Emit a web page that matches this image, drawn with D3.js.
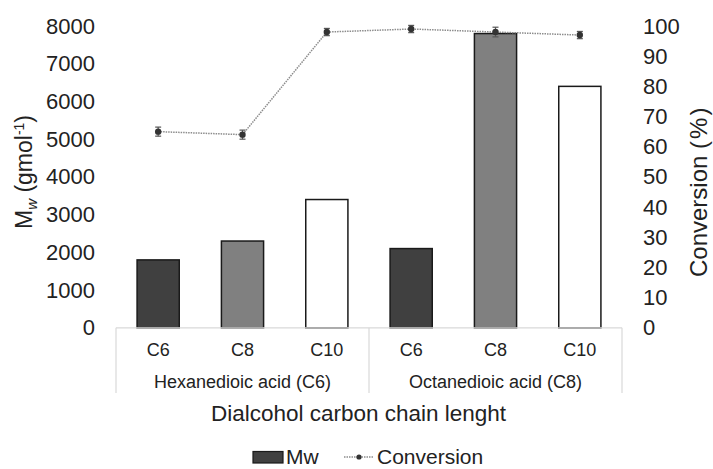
<!DOCTYPE html>
<html>
<head>
<meta charset="utf-8">
<script src="https://cdn.jsdelivr.net/npm/d3@7"></script>
<style>
  html, body { margin: 0; padding: 0; background: #fff; }
  svg { display: block; font-family: Arial, "Liberation Sans", sans-serif; }
</style>
</head>
<body>
<svg id="chart" width="713" height="469"></svg>
<script>
// Molecular weight and conversion by diacid / dialcohol pairing
const groups = ["Hexanedioic acid (C6)", "Octanedioic acid (C8)"];
const alcohols = ["C6", "C8", "C10"];
const mwValues = [1800, 2300, 3400, 2100, 7800, 6400];
const conversionValues = [65, 64, 98, 99, 98, 97];
const conversionErrors = [1.5, 1.5, 1.2, 1.2, 1.6, 1.2];
const mwTicks = [0, 1000, 2000, 3000, 4000, 5000, 6000, 7000, 8000];
const convTicks = [0, 10, 20, 30, 40, 50, 60, 70, 80, 90, 100];
const barFills = { C6: "#404040", C8: "#808080", C10: "#ffffff" };

const FONT = "Arial, 'Liberation Sans', sans-serif";
const svg = d3.select("#chart");
const plot = { left: 116, right: 622, top: 26, bottom: 327.8 };

const items = [];
groups.forEach((g, gi) => alcohols.forEach((a, ai) => {
  const i = gi * alcohols.length + ai;
  items.push({ key: g + "|" + a, group: g, alcohol: a, mw: mwValues[i], conv: conversionValues[i], err: conversionErrors[i] });
}));

const x = d3.scaleBand().domain(items.map(d => d.key)).range([plot.left, plot.right]);
const xGroup = d3.scaleBand().domain(groups).range([plot.left, plot.right]);
const yL = d3.scaleLinear().domain([0, 8000]).range([plot.bottom, plot.top]);
const yR = d3.scaleLinear().domain([0, 100]).range([plot.bottom, plot.top]);

const barW = x.bandwidth() * 0.5;

// Bars
svg.append("g").selectAll("rect").data(items).join("rect")
  .attr("x", d => x(d.key) + (x.bandwidth() - barW) / 2)
  .attr("y", d => yL(d.mw))
  .attr("width", barW)
  .attr("height", d => yL(0) - yL(d.mw))
  .attr("fill", d => barFills[d.alcohol])
  .attr("stroke", "#1a1a1a")
  .attr("stroke-width", 1.5);

// Category box below the plot
const boxBottom = 393;
const box = svg.append("g").attr("stroke", "#d9d9d9").attr("stroke-width", 1.2).attr("fill", "none");
box.append("line").attr("x1", plot.left).attr("x2", plot.right).attr("y1", plot.bottom).attr("y2", plot.bottom);
[plot.left, xGroup(groups[1]), plot.right].forEach(px => {
  box.append("line").attr("x1", px).attr("x2", px).attr("y1", plot.bottom).attr("y2", boxBottom);
});

// Category labels
svg.append("g").selectAll("text").data(items).join("text")
  .attr("x", d => x(d.key) + x.bandwidth() / 2)
  .attr("y", 356)
  .attr("text-anchor", "middle")
  .attr("font-size", 18)
  .attr("fill", "#222")
  .text(d => d.alcohol);

svg.append("g").selectAll("text").data(groups).join("text")
  .attr("x", d => xGroup(d) + xGroup.bandwidth() / 2)
  .attr("y", 388)
  .attr("text-anchor", "middle")
  .attr("font-size", 18)
  .attr("fill", "#222")
  .text(d => d);

// Left axis
const leftAxis = d3.axisLeft(yL).tickValues(mwTicks).tickFormat(d3.format("d")).tickSize(0).tickPadding(0);
const gl = svg.append("g").attr("transform", `translate(95,0)`).call(leftAxis);
gl.select(".domain").remove();
gl.attr("font-size", 22).attr("font-family", FONT);
gl.selectAll("text").attr("fill", "#222");

// Right axis
const rightAxis = d3.axisRight(yR).tickValues(convTicks).tickFormat(d3.format("d")).tickSize(0).tickPadding(0);
const gr = svg.append("g").attr("transform", `translate(643,0)`).call(rightAxis);
gr.select(".domain").remove();
gr.attr("font-size", 22).attr("font-family", FONT);
gr.selectAll("text").attr("fill", "#222");

// Axis titles
const lt = svg.append("text")
  .attr("transform", "translate(32,172) rotate(-90)")
  .attr("text-anchor", "middle")
  .attr("font-size", 23)
  .attr("fill", "#222");
lt.append("tspan").text("M");
lt.append("tspan").attr("font-size", 15).attr("font-style", "italic").attr("dy", 5).text("w");
lt.append("tspan").attr("dy", -5).text(" (gmol");
lt.append("tspan").attr("font-size", 14).attr("dy", -8).text("-1");
lt.append("tspan").attr("dy", 8).text(")");

const rt = svg.append("text")
  .attr("transform", "translate(707,277) rotate(-90)")
  .attr("text-anchor", "start")
  .attr("font-size", 24)
  .attr("fill", "#222");
rt.append("tspan").text("Conversion ");
rt.append("tspan").attr("letter-spacing", 2).text("(%)");

svg.append("text")
  .attr("x", 358.5)
  .attr("y", 421)
  .attr("text-anchor", "middle")
  .attr("font-size", 22.5)
  .attr("fill", "#222")
  .text("Dialcohol carbon chain lenght");

// Conversion line with error bars
const cx = d => x(d.key) + x.bandwidth() / 2;
svg.append("path")
  .datum(items)
  .attr("fill", "none")
  .attr("stroke", "#8c8c8c")
  .attr("stroke-width", 1.5)
  .attr("stroke-dasharray", "1.5,1")
  .attr("d", d3.line().x(cx).y(d => yR(d.conv)));

const eb = svg.append("g").attr("stroke", "#555").attr("stroke-width", 1.2);
items.forEach(d => {
  eb.append("line").attr("x1", cx(d)).attr("x2", cx(d)).attr("y1", yR(d.conv - d.err)).attr("y2", yR(d.conv + d.err));
  [d.conv - d.err, d.conv + d.err].forEach(v => {
    eb.append("line").attr("x1", cx(d) - 3).attr("x2", cx(d) + 3).attr("y1", yR(v)).attr("y2", yR(v));
  });
});

svg.append("g").selectAll("circle").data(items).join("circle")
  .attr("cx", cx)
  .attr("cy", d => yR(d.conv))
  .attr("r", 3.2)
  .attr("fill", "#333");

// Legend
const lg = svg.append("g");
lg.append("rect").attr("x", 253).attr("y", 451.5).attr("width", 30).attr("height", 11.5)
  .attr("fill", "#404040").attr("stroke", "#1a1a1a").attr("stroke-width", 1.2);
lg.append("text").attr("x", 286).attr("y", 464).attr("font-size", 21).attr("fill", "#222").text("Mw");
lg.append("line").attr("x1", 344).attr("x2", 374).attr("y1", 457).attr("y2", 457)
  .attr("stroke", "#8c8c8c").attr("stroke-width", 1.5).attr("stroke-dasharray", "1.5,1");
lg.append("circle").attr("cx", 359).attr("cy", 457).attr("r", 2.6).attr("fill", "#333");
lg.append("text").attr("x", 377).attr("y", 464).attr("font-size", 21).attr("fill", "#222").text("Conversion");
</script>
</body>
</html>
